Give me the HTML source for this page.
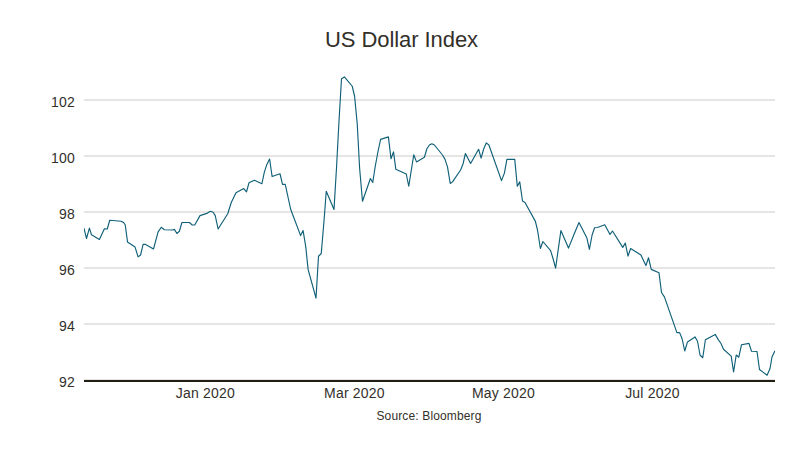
<!DOCTYPE html>
<html><head><meta charset="utf-8"><title>US Dollar Index</title>
<style>
html,body{margin:0;padding:0;background:#fff;}
body{width:800px;height:450px;overflow:hidden;font-family:"Liberation Sans",sans-serif;}
svg{display:block}
text{font-family:"Liberation Sans",sans-serif;fill:#33302a}
</style></head><body>
<svg width="800" height="450" viewBox="0 0 800 450">
<rect width="800" height="450" fill="#fff"/>
<g stroke="#e6e5e3" stroke-width="2">
<line x1="84" x2="775" y1="100" y2="100"/>
<line x1="84" x2="775" y1="156" y2="156"/>
<line x1="84" x2="775" y1="212" y2="212"/>
<line x1="84" x2="775" y1="268" y2="268"/>
<line x1="84" x2="775" y1="324" y2="324"/>
</g>
<line x1="84" x2="775" y1="380" y2="380" stroke="#e6e5e3" stroke-width="2"/>
<line x1="84" x2="775" y1="381" y2="381" stroke="#221e13" stroke-width="2"/>
<g font-size="14" text-anchor="end" letter-spacing="0.2">
<text x="75" y="107">102</text>
<text x="75" y="163">100</text>
<text x="75" y="219">98</text>
<text x="75" y="275">96</text>
<text x="75" y="331">94</text>
<text x="75" y="387">92</text>
</g>
<g font-size="14" text-anchor="middle" letter-spacing="0.19">
<text x="205.4" y="398">Jan 2020</text>
<text x="354.4" y="398">Mar 2020</text>
<text x="503.4" y="398">May 2020</text>
<text x="652.4" y="398">Jul 2020</text>
</g>
<text x="401.500" y="46.500" font-size="22" letter-spacing="-0.07" text-anchor="middle">US Dollar Index</text>
<text x="429" y="420" font-size="12" letter-spacing="0.135" text-anchor="middle">Source: Bloomberg</text>
<!--LINE--><clipPath id="plotclip"><rect x="84" y="60" width="691" height="322"/></clipPath><polyline clip-path="url(#plotclip)" fill="none" stroke="#106078" stroke-width="1.15" stroke-linejoin="round" stroke-linecap="round" points="84,228.3 86.5,238.5 89.4,228.1 91.5,234.75 99.4,239.4 104.4,228.75 107.25,229 109.75,220.25 121.25,221.25 123.75,222.75 125.25,225 127.5,241.9 135,246.9 138.1,256.9 140.6,255 143.1,244.4 145.6,244.4 153.5,249 158.1,231.9 161.25,227.25 164.4,229.75 172.5,230 174.4,229.4 176.9,233.5 179.4,231.25 181.9,222.5 189.4,222.5 192.25,225 194.75,225 200,215.6 207.5,213.1 210.25,211.25 213.1,212.25 215.25,215.6 218.1,229 227.75,213.75 231.25,202.5 236,192.75 243.75,188.6 246.5,191.9 249,182.75 254.4,180.25 261.9,183.75 264.4,171.9 266.9,164.4 269.6,159 272.1,176.5 280,173.75 282.5,184.4 285.25,184.4 290.6,209 300.6,235.6 303.1,230.6 305.8,247 308.1,269.4 316,298.1 318.5,256.25 321.25,253.5 324,221 326.25,191.25 334,209.4 336.5,168 339,121 341.5,78.75 344.4,76.9 352.25,86.25 354.6,96.25 357.25,124 359.6,168 362.5,201.25 370.4,178.5 372.75,182.5 375.3,166 377.9,152 380.6,139.4 388.4,136.9 391,158.75 393.5,151.9 395.8,169.2 406.25,174 408.75,186.25 413.75,154.75 416.5,161.9 424.4,157.25 426.9,148.75 429.4,145 431.9,143.75 434.4,145 442.5,155 445,159.4 447.5,166.9 450.25,183.5 452.5,181.9 460.6,170 463.1,163.75 465.4,153.5 470.6,163.5 478.6,149.25 481.1,158.1 483.75,148.75 486.25,142.9 488.9,145 501.5,180.6 504.4,173.1 506.9,159.4 514.75,159.4 517.3,186.25 519.75,181.9 522.5,201 525,202.5 535.4,221.4 537.5,230 540.4,248.5 542.9,241.5 550.6,250.6 553.1,258.75 555.6,268.1 560.9,230.6 568.5,248.1 573.75,235 579,222.5 586.9,238.1 589.4,249.4 592.1,235 594.6,227.75 597.5,227.5 604.75,224.75 610,234.4 612.5,231 622.75,247.4 625.3,243.1 628,256.1 630.6,248.5 640.9,255 645.9,265.6 648.5,257.75 651.25,269.4 659,272.75 661.5,292.5 664.4,296.9 676.9,332.6 679.6,332.6 682.1,338.75 684.75,351 687.5,341.9 695,336.9 697.5,341.25 700,355 702.75,357.75 705.4,339.75 715.25,334.4 718.1,339.4 721,343.5 723.5,349.2 731.2,356.1 733.6,372 736.2,355 738.8,357.2 741.5,344.8 749,343.4 751.5,351.2 757,351.5 759.5,369.5 767.1,375.2 770,368.5 772,357 774.7,351.2"/><!--/LINE-->
</svg>
</body></html>
